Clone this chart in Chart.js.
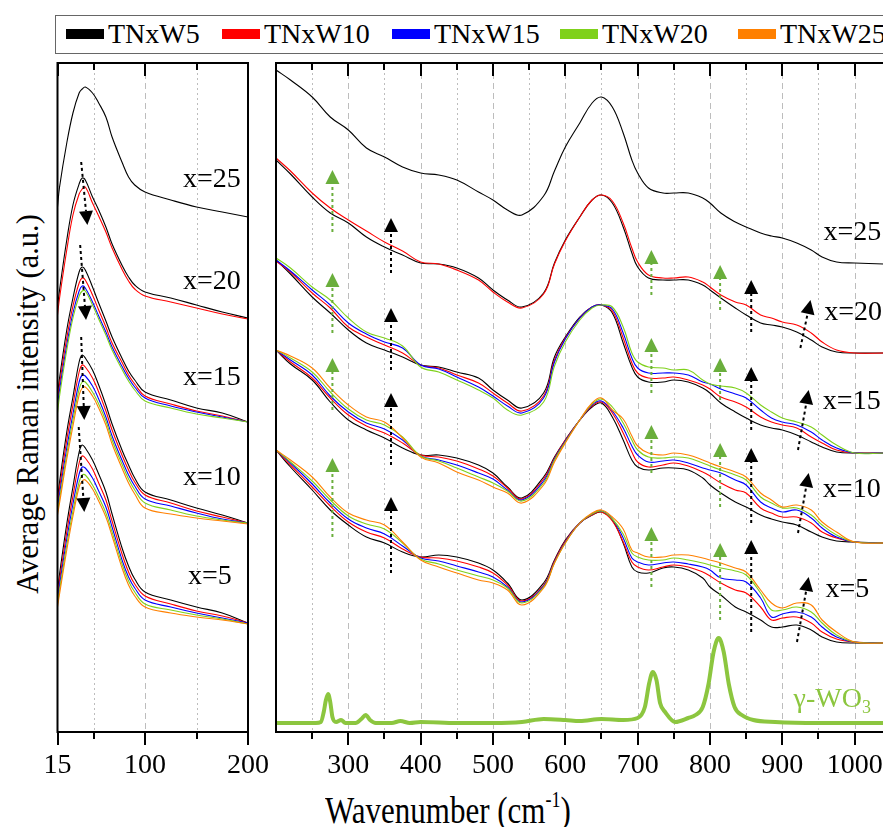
<!DOCTYPE html>
<html>
<head>
<meta charset="utf-8">
<script src="https://cdn.jsdelivr.net/npm/chart.js@4.4.1/dist/chart.umd.min.js"></script>
<style>
html, body { margin: 0; padding: 0; background: #fff; overflow: hidden; }
#page { position: relative; width: 883px; height: 827px; overflow: hidden; font-family: 'Liberation Serif', 'Times New Roman', serif; color: #000; }
#leftBox { position: absolute; left: 0; top: 0; width: 273px; height: 827px; }
#rightBox { position: absolute; left: 262px; top: 0; width: 640px; height: 827px; }
.legend { position: absolute; left: 55px; top: 15px; width: 860px; height: 39px; border: 1px solid #666; box-sizing: border-box; }
.sw { position: absolute; top: 29px; width: 38px; height: 10px; }
.lt { position: absolute; top: 20px; font-size: 28px; line-height: 1; white-space: nowrap; }
.ytitle { position: absolute; left: 28px; top: 404px; transform: translate(-50%, -50%) rotate(-90deg); font-size: 30.5px; line-height: 1; white-space: nowrap; }
.xtitle { position: absolute; left: 325px; top: 797px; font-size: 31px; line-height: 1; white-space: nowrap; transform: scaleY(1.25); transform-origin: 0 26px; }
.xtitle sup { font-size: 18px; vertical-align: 0; position: relative; top: -13px; }
</style>
</head>
<body>
<div id="page">
  <div class="legend"></div>
  <div id="legendItems"></div>
  <div class="ytitle">Average Raman intensity (a.u.)</div>
  <div class="xtitle">Wavenumber (cm<sup>-1</sup>)</div>
  <div id="leftBox"><canvas id="leftChart" width="273" height="827"></canvas></div>
  <div id="rightBox"><canvas id="rightChart" width="640" height="827"></canvas></div>
</div>
<script>
// series names / colours (legend)
const seriesNames = ['TNxW5', 'TNxW10', 'TNxW15', 'TNxW20', 'TNxW25'];
const seriesColors = ['#000000', '#ff0000', '#0000ff', '#7fd11b', '#ff8000'];

// ---- left panel (low wavenumber) ----
const leftX = [15, 17, 24, 30, 36, 39, 42, 49, 55, 62, 68, 78, 84, 90, 100, 125, 150, 175, 200];
const l25w5  = [525, 545, 589, 619, 639, 643, 645, 639, 629, 615, 595, 569, 555, 547, 540, 532, 525, 520, 515];
const l20w5  = [425, 442, 492, 527, 548, 554, 552, 535, 522, 505, 488, 466, 455, 447, 440, 434, 427, 420, 414];
const l20w10 = [417, 434, 482, 517, 538, 543, 545, 529, 516, 500, 484, 462, 451, 443, 436, 430, 424, 418, 413];
const l15w5  = [337, 354, 402, 434, 460, 465, 462, 445, 429, 411, 395, 373, 361, 352, 340, 332, 324, 319, 310];
const l15w10 = [332, 348, 394, 426, 449, 454, 452, 437, 422, 405, 389, 369, 357, 348, 336, 328, 321, 316, 310];
const l15w15 = [327, 342, 387, 419, 441, 446, 444, 430, 416, 400, 385, 365, 354, 345, 334, 326, 320, 315, 310];
const l15w20 = [319, 336, 382, 414, 436, 441, 441, 427, 413, 397, 382, 362, 351, 342, 331, 324, 318, 314, 310];
const l10w5  = [232, 250, 300, 335, 370, 377, 374, 362, 347, 327, 308, 281, 267, 254, 240, 232, 224, 217, 209];
const l10w10 = [228, 244, 292, 327, 360, 367, 365, 354, 340, 321, 302, 276, 262, 250, 237, 229, 221, 215, 209];
const l10w15 = [224, 238, 284, 318, 350, 357, 356, 346, 333, 315, 296, 271, 257, 246, 233, 226, 219, 213, 209];
const l10w20 = [220, 233, 278, 312, 343, 350, 350, 340, 328, 311, 292, 267, 253, 242, 229, 222, 216, 212, 209];
const l10w25 = [217, 229, 273, 306, 337, 344, 345, 336, 324, 307, 288, 263, 249, 238, 224, 218, 214, 211, 208];
const l5w5   = [140, 158, 208, 245, 280, 287, 284, 272, 258, 240, 218, 183, 166, 153, 140, 132, 125, 119, 109];
const l5w10  = [136, 152, 200, 236, 269, 276, 274, 263, 249, 232, 211, 177, 160, 148, 136, 128, 121, 116, 109];
const l5w15  = [132, 147, 193, 228, 258, 265, 264, 254, 241, 225, 205, 171, 155, 144, 132, 125, 119, 114, 109];
const l5w20  = [128, 142, 187, 221, 250, 257, 257, 247, 235, 219, 200, 167, 151, 140, 128, 122, 117, 113, 108];
const l5w25  = [125, 138, 182, 216, 245, 251, 252, 243, 231, 215, 196, 163, 147, 136, 125, 119, 115, 112, 108];
const leftTicks = [15, 50, 100, 150, 200];
const leftTickLabels = [15, 100, 200];
const leftGrid = [50, 100, 150];

// ---- right panel ----
const rightX = [200, 220, 250, 275, 300, 325, 350, 375, 400, 425, 450, 480, 500, 520, 540, 570, 585, 600, 620, 637,
                650, 665, 680, 692, 700, 715, 735, 750, 770, 790, 800, 815, 835, 850, 870, 885, 900, 920, 940, 955,
                975, 1000, 1040, 1050];
const r25w5  = [662, 652, 635, 615, 602, 584, 575, 565, 559, 557, 552, 540, 532, 522, 517, 536, 561, 585, 609, 629,
                635, 625, 599, 572, 559, 544, 539, 539, 539, 534, 529, 519, 510, 505, 499, 496, 494, 489, 482, 475,
                470, 469, 468, 468];
const r20w5  = [572, 558, 535, 519, 509, 495, 485, 477, 469, 468, 464, 454, 442, 432, 425, 439, 469, 492, 515, 532,
                537, 529, 505, 479, 465, 454, 452, 452, 452, 447, 442, 434, 424, 417, 409, 407, 405, 400, 392, 385,
                380, 379, 379, 379];
const r20w10 = [574, 561, 539, 524, 512, 501, 490, 481, 470, 468, 462, 452, 440, 430, 424, 438, 468, 491, 515, 532,
                537, 531, 509, 484, 470, 457, 454, 454, 455, 450, 445, 437, 430, 427, 417, 414, 410, 407, 399, 390,
                382, 379, 379, 379];
const r15w5  = [472, 458, 435, 419, 402, 389, 382, 375, 367, 365, 360, 354, 342, 332, 324, 339, 375, 395, 415, 425,
                427, 419, 389, 365, 355, 350, 350, 352, 350, 344, 339, 329, 320, 314, 307, 304, 302, 297, 290, 285,
                280, 279, 279, 279];
const r15w10 = [471, 460, 439, 424, 405, 395, 387, 379, 367, 364, 357, 349, 339, 329, 321, 336, 372, 394, 414, 425,
                427, 421, 394, 369, 359, 354, 354, 355, 352, 347, 343, 335, 330, 325, 315, 310, 307, 304, 295, 289,
                282, 279, 279, 279];
const r15w15 = [472, 461, 442, 427, 409, 398, 390, 384, 367, 363, 355, 345, 336, 326, 319, 334, 370, 393, 414, 425,
                427, 423, 399, 374, 364, 359, 359, 359, 357, 350, 348, 343, 338, 334, 322, 314, 310, 307, 300, 292,
                284, 279, 279, 279];
const r15w20 = [474, 464, 445, 432, 414, 400, 394, 386, 365, 360, 352, 342, 334, 322, 317, 330, 366, 390, 412, 424,
                427, 425, 405, 379, 370, 365, 364, 362, 362, 352, 348, 346, 344, 339, 327, 320, 314, 310, 305, 297,
                287, 279, 279, 279];
const r10w5  = [382, 368, 352, 330, 312, 302, 294, 284, 277, 277, 274, 267, 259, 245, 234, 255, 275, 292, 312, 325,
                329, 315, 292, 272, 265, 262, 264, 264, 262, 254, 247, 239, 230, 225, 217, 213, 210, 207, 200, 195,
                191, 190, 189, 189];
const r10w10 = [382, 370, 354, 334, 317, 306, 299, 289, 277, 275, 271, 263, 256, 244, 233, 253, 274, 292, 312, 326,
                330, 319, 299, 280, 270, 265, 267, 269, 266, 260, 256, 249, 242, 239, 224, 219, 215, 215, 209, 200,
                194, 190, 189, 189];
const r10w15 = [382, 372, 357, 336, 320, 309, 303, 292, 276, 272, 267, 259, 253, 242, 232, 251, 273, 291, 312, 327,
                331, 321, 304, 286, 277, 270, 271, 272, 269, 264, 262, 259, 252, 247, 230, 224, 220, 222, 214, 204,
                195, 190, 189, 189];
const r10w20 = [382, 374, 360, 340, 323, 312, 307, 295, 276, 271, 264, 255, 249, 241, 231, 249, 272, 290, 312, 328,
                333, 325, 309, 292, 282, 275, 274, 275, 274, 269, 266, 262, 257, 252, 235, 229, 224, 224, 217, 207,
                197, 190, 189, 189];
const r10w25 = [382, 376, 364, 344, 327, 315, 310, 294, 275, 269, 260, 252, 245, 239, 229, 247, 270, 289, 312, 329,
                334, 322, 313, 296, 286, 279, 277, 279, 277, 272, 269, 265, 260, 255, 239, 232, 225, 227, 222, 210,
                200, 190, 189, 189];
const r5w5   = [282, 265, 242, 222, 207, 195, 189, 180, 175, 177, 175, 169, 162, 149, 132, 149, 172, 192, 209, 217,
                220, 212, 189, 165, 160, 159, 164, 165, 162, 154, 145, 137, 125, 120, 112, 105, 105, 107, 102, 95,
                90, 89, 89, 89];
const r5w10  = [282, 267, 245, 226, 210, 200, 194, 183, 175, 174, 171, 165, 159, 147, 131, 147, 171, 191, 209, 217,
                220, 211, 190, 170, 165, 162, 165, 167, 165, 160, 156, 149, 142, 139, 125, 112, 114, 115, 109, 100,
                93, 90, 89, 89];
const r5w15  = [282, 269, 248, 229, 213, 204, 198, 186, 174, 171, 166, 160, 155, 145, 130, 146, 170, 190, 209, 218,
                221, 213, 194, 174, 170, 167, 169, 170, 168, 165, 162, 154, 152, 150, 134, 115, 118, 120, 115, 105,
                95, 90, 89, 89];
const r5w20  = [282, 270, 251, 232, 216, 208, 203, 189, 173, 168, 162, 156, 152, 144, 129, 145, 169, 189, 209, 218,
                221, 213, 198, 179, 175, 172, 172, 174, 172, 169, 167, 164, 161, 157, 139, 122, 122, 125, 120, 109,
                97, 90, 89, 89];
const r5w25  = [282, 272, 255, 235, 219, 212, 207, 190, 172, 165, 159, 152, 149, 142, 127, 144, 169, 189, 209, 219,
                222, 215, 203, 182, 179, 175, 175, 177, 177, 174, 172, 169, 164, 160, 142, 129, 124, 129, 127, 112,
                100, 90, 89, 89];
const wo3X = [200, 255, 262, 266, 269, 272, 275, 278, 283, 290, 296, 310, 318, 324, 330, 338, 360, 372, 385, 400,
              450, 500, 540, 570, 600, 620, 650, 680, 700, 710, 716, 721, 726, 731, 738, 752, 770, 780, 790, 798,
              805, 812, 819, 826, 834, 844, 860, 890, 950, 1050];
const wo3Y = [9, 9, 10, 20, 32, 38, 30, 15, 10, 12, 9, 9, 13, 17, 12, 9, 9, 11, 9, 10,
              9, 9, 10, 13, 12, 11, 13, 12, 14, 25, 49, 60, 52, 29, 20, 10, 14, 17, 25, 48,
              80, 94, 80, 48, 25, 17, 12, 10, 9, 9];
const rightTicks = [250, 300, 350, 400, 450, 500, 550, 600, 650, 700, 750, 800, 850, 900, 950, 1000, 1050];
const rightTickLabels = [300, 400, 500, 600, 700, 800, 900, 1000];
const rightGrid = [250, 300, 350, 400, 450, 500, 550, 600, 650, 700, 750, 800, 850, 900, 950, 1000, 1050];

// annotations: [tail wavenumber, tail intensity, tip wavenumber, tip intensity]
const leftArrows = [[38, 570, 44, 507], [37, 487, 42.7, 412], [38, 395, 41, 312], [35.6, 305, 41, 220]];
const leftLabels = [['x=25', 165, 552], ['x=20', 165, 450], ['x=15', 165, 354], ['x=10', 165, 254], ['x=5', 163, 155]];
const greenArrows = [
  [278, 500, 278, 562], [278, 399, 278, 459], [278, 322, 278, 374], [278, 195, 278, 274],
  [719, 437, 719, 482], [719, 339, 719, 394], [719, 259, 719, 307], [719, 145, 719, 205],
  [814, 422, 814, 467], [814, 332, 814, 374], [814, 225, 814, 289], [814, 112, 814, 189]
];
const blackArrows = [
  [359, 459, 359, 514], [359, 362, 359, 424], [359, 267, 359, 339], [359, 159, 359, 235],
  [857, 400, 857, 452], [857, 302, 857, 365], [857, 209, 857, 284], [857, 100, 857, 192],
  [925, 384, 939, 432], [921.7, 282, 936.4, 342], [921.7, 199, 936.4, 259], [920.3, 90, 936.4, 155]
];
const rightLabels = [['x=25', 997, 499], ['x=20', 998, 419], ['x=15', 996, 330], ['x=10', 996, 242], ['x=5', 990, 142]];
const wo3Label = { w: 969, i: 32 };

const FONT = "'Liberation Serif', 'Times New Roman', serif";
const WO3_COLOR = '#8cc63f';
const ARROW_GREEN = '#6aae3c';

// legend
(function buildLegend() {
  const box = document.getElementById('legendItems');
  const swX = [66, 222, 392, 560, 738];
  seriesNames.forEach((name, i) => {
    const sw = document.createElement('div');
    sw.className = 'sw';
    sw.style.left = swX[i] + 'px';
    sw.style.background = seriesColors[i];
    box.appendChild(sw);
    const t = document.createElement('div');
    t.className = 'lt';
    t.style.left = (swX[i] + 42) + 'px';
    t.textContent = name;
    box.appendChild(t);
  });
})();

function curve(xs, ys, colorIndex) {
  return {
    data: xs.map((x, i) => ({ x: x, y: ys[i] })),
    borderColor: seriesColors[colorIndex],
    borderWidth: 1.1,
    pointRadius: 0,
    fill: false,
    tension: 0.4,
    order: 5 - colorIndex
  };
}

function drawArrow(ctx, x1, y1, x2, y2, color) {
  const ang = Math.atan2(y2 - y1, x2 - x1);
  const hl = 14, hw = 7;
  const bx = x2 - hl * Math.cos(ang), by = y2 - hl * Math.sin(ang);
  ctx.save();
  ctx.strokeStyle = color;
  ctx.fillStyle = color;
  ctx.lineWidth = 2;
  ctx.setLineDash([3, 3]);
  ctx.beginPath();
  ctx.moveTo(x1, y1);
  ctx.lineTo(bx, by);
  ctx.stroke();
  ctx.setLineDash([]);
  ctx.beginPath();
  ctx.moveTo(x2, y2);
  ctx.lineTo(bx + hw * Math.sin(ang), by - hw * Math.cos(ang));
  ctx.lineTo(bx - hw * Math.sin(ang), by + hw * Math.cos(ang));
  ctx.closePath();
  ctx.fill();
  ctx.restore();
}

// frame, ticks, gridlines and annotations for one panel
function makePanel(cfg) {
  return {
    id: 'panel',
    beforeDatasetsDraw(chart) {
      const { ctx, chartArea: a, scales: { x } } = chart;
      ctx.save();
      ctx.strokeStyle = '#bdbdbd';
      ctx.lineWidth = 1;
      cfg.grid.forEach(v => {
        const px = Math.round(x.getPixelForValue(v)) + 0.5;
        ctx.setLineDash(v % 100 === 0 ? [6, 4] : [2, 3]);
        ctx.beginPath();
        ctx.moveTo(px, a.top);
        ctx.lineTo(px, a.bottom);
        ctx.stroke();
      });
      ctx.restore();
    },
    afterDatasetsDraw(chart) {
      const { ctx, chartArea: a, scales: { x, y } } = chart;
      ctx.save();
      // frame
      ctx.strokeStyle = '#000';
      ctx.lineWidth = 2;
      ctx.setLineDash([]);
      ctx.strokeRect(a.left, a.top, a.right - a.left, a.bottom - a.top);
      // tick marks: outward at bottom, inward at top
      cfg.ticks.forEach(v => {
        const px = Math.round(x.getPixelForValue(v));
        const len = cfg.labels.includes(v) ? 13 : 7;
        ctx.beginPath();
        ctx.moveTo(px, a.bottom);
        ctx.lineTo(px, a.bottom + len);
        ctx.moveTo(px, a.top);
        ctx.lineTo(px, a.top + len);
        ctx.stroke();
      });
      // arrows
      cfg.arrows.forEach(set => {
        set.list.forEach(r => drawArrow(ctx, x.getPixelForValue(r[0]), y.getPixelForValue(r[1]),
          x.getPixelForValue(r[2]), y.getPixelForValue(r[3]), set.color));
      });
      // labels
      ctx.fillStyle = '#000';
      ctx.font = '28px ' + FONT;
      ctx.textAlign = 'center';
      ctx.textBaseline = 'middle';
      cfg.texts.forEach(t => ctx.fillText(t[0], x.getPixelForValue(t[1]), y.getPixelForValue(t[2])));
      if (cfg.wo3) {
        const cx = x.getPixelForValue(cfg.wo3.w), cy = y.getPixelForValue(cfg.wo3.i);
        ctx.fillStyle = WO3_COLOR;
        ctx.font = '28px ' + FONT;
        const main = '\u03b3-WO';
        const wMain = ctx.measureText(main).width;
        ctx.font = '18px ' + FONT;
        const wSub = ctx.measureText('3').width;
        const left = cx - (wMain + wSub) / 2;
        ctx.textAlign = 'left';
        ctx.font = '28px ' + FONT;
        ctx.fillText(main, left, cy);
        ctx.font = '18px ' + FONT;
        ctx.fillText('3', left + wMain, cy + 8);
      }
      ctx.restore();
    }
  };
}

function xAxis(min, max, ticks, labels) {
  return {
    type: 'linear',
    min: min,
    max: max,
    afterBuildTicks: s => { s.ticks = ticks.map(v => ({ value: v })); },
    afterFit: s => { s.height = 95; },
    grid: { display: false, drawTicks: true, tickLength: 13 },
    border: { display: false },
    ticks: {
      autoSkip: false,
      maxRotation: 0,
      minRotation: 0,
      padding: 4,
      color: '#000',
      font: { family: FONT, size: 28 },
      callback: v => labels.includes(v) ? String(v) : ''
    }
  };
}

const baseOptions = (padLeft, padRight, xscale) => ({
  responsive: false,
  animation: false,
  events: [],
  layout: { padding: { left: padLeft, right: padRight, top: 63, bottom: 0 } },
  plugins: { legend: { display: false }, tooltip: { enabled: false } },
  scales: { x: xscale, y: { display: false, min: 0, max: 669 } }
});

new Chart(document.getElementById('leftChart'), {
  type: 'line',
  data: {
    datasets: [
      curve(leftX, l25w5, 0),
      curve(leftX, l20w5, 0), curve(leftX, l20w10, 1),
      curve(leftX, l15w5, 0), curve(leftX, l15w10, 1), curve(leftX, l15w15, 2), curve(leftX, l15w20, 3),
      curve(leftX, l10w5, 0), curve(leftX, l10w10, 1), curve(leftX, l10w15, 2), curve(leftX, l10w20, 3), curve(leftX, l10w25, 4),
      curve(leftX, l5w5, 0), curve(leftX, l5w10, 1), curve(leftX, l5w15, 2), curve(leftX, l5w20, 3), curve(leftX, l5w25, 4)
    ]
  },
  options: baseOptions(57.5, 22, xAxis(15, 200, leftTicks, leftTickLabels)),
  plugins: [makePanel({
    grid: leftGrid, ticks: leftTicks, labels: leftTickLabels,
    arrows: [{ list: leftArrows, color: '#000' }],
    texts: leftLabels
  })]
});

const wo3Set = {
  data: wo3X.map((x, i) => ({ x: x, y: wo3Y[i] })),
  borderColor: WO3_COLOR,
  borderWidth: 4,
  pointRadius: 0,
  fill: false,
  cubicInterpolationMode: 'monotone',
  order: 0
};

new Chart(document.getElementById('rightChart'), {
  type: 'line',
  data: {
    datasets: [
      curve(rightX, r25w5, 0),
      curve(rightX, r20w5, 0), curve(rightX, r20w10, 1),
      curve(rightX, r15w5, 0), curve(rightX, r15w10, 1), curve(rightX, r15w15, 2), curve(rightX, r15w20, 3),
      curve(rightX, r10w5, 0), curve(rightX, r10w10, 1), curve(rightX, r10w15, 2), curve(rightX, r10w20, 3), curve(rightX, r10w25, 4),
      curve(rightX, r5w5, 0), curve(rightX, r5w10, 1), curve(rightX, r5w15, 2), curve(rightX, r5w20, 3), curve(rightX, r5w25, 4),
      wo3Set
    ]
  },
  options: baseOptions(14, 11.2, xAxis(200, 1050, rightTicks, rightTickLabels)),
  plugins: [makePanel({
    grid: rightGrid, ticks: rightTicks, labels: rightTickLabels,
    arrows: [{ list: greenArrows, color: ARROW_GREEN }, { list: blackArrows, color: '#000' }],
    texts: rightLabels,
    wo3: wo3Label
  })]
});
</script>
</body>
</html>
